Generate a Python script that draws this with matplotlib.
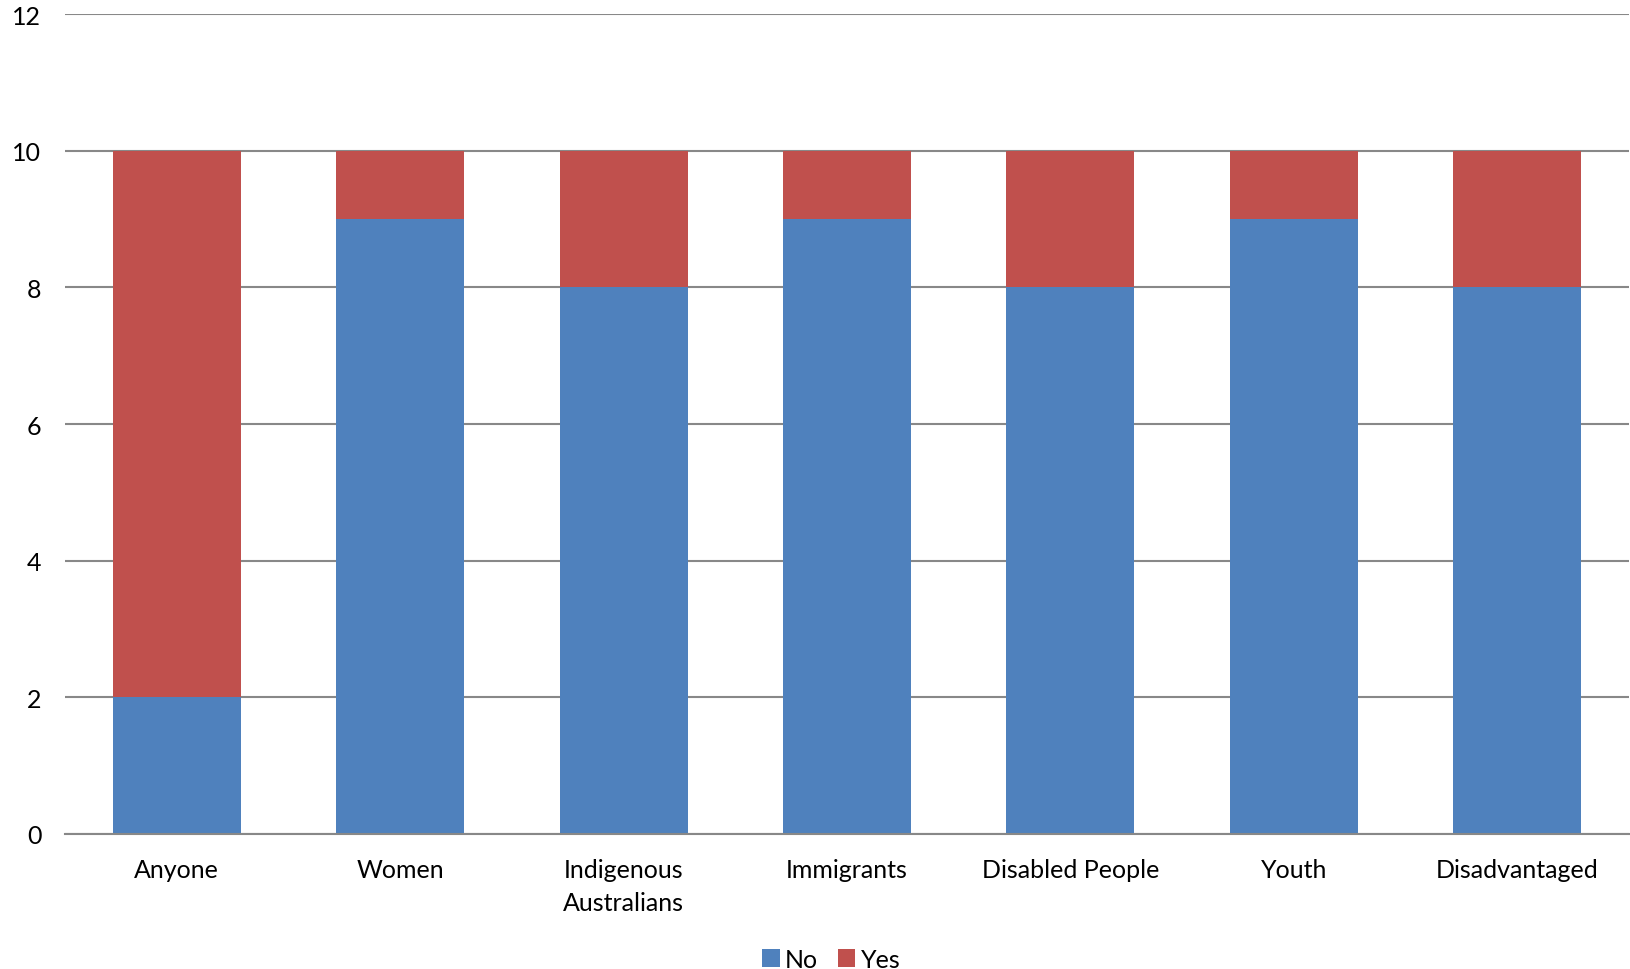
import matplotlib.pyplot as plt
import numpy as np

categories = ['Anyone', 'Women', 'Indigenous\nAustralians', 'Immigrants',
              'Disabled People', 'Youth', 'Disadvantaged']
no_vals = [2, 9, 8, 9, 8, 9, 8]
yes_vals = [8, 1, 2, 1, 2, 1, 2]

plt.rcParams['font.family'] = ['Lato', 'DejaVu Sans']

fig = plt.figure(figsize=(16.3, 9.7), dpi=100)
ax = fig.add_axes([0.0399, 0.1392, 0.9595, 0.8453])

x = np.arange(len(categories))
ax.bar(x, no_vals, width=0.573, color='#4F81BD', label='No', zorder=2)
ax.bar(x, yes_vals, bottom=no_vals, width=0.573, color='#C0504D', label='Yes', zorder=2)

ax.set_xlim(-0.5, len(categories) - 0.5)
ax.set_ylim(0, 12)
ax.set_yticks(range(0, 13, 2))
ax.set_xticks(x)
ax.set_xticklabels(categories, fontsize=18, linespacing=1.55)
ax.tick_params(axis='y', length=0, pad=17, labelsize=18)
ax.tick_params(axis='x', length=0, pad=17)
ax.yaxis.grid(True, color='#888888', linewidth=1.5, zorder=0)
for s in ['top', 'right', 'left']:
    ax.spines[s].set_visible(False)
ax.spines['bottom'].set_color('#888888')
ax.spines['bottom'].set_linewidth(1.5)
ax.spines['bottom'].set_zorder(3)

fig.legend(loc='center', bbox_to_anchor=(0.51, 0.01), ncol=2, frameon=False,
           fontsize=18, handlelength=0.7, handleheight=0.7, handletextpad=0.2,
           columnspacing=0.8)

fig.savefig('out.png', dpi=100)
